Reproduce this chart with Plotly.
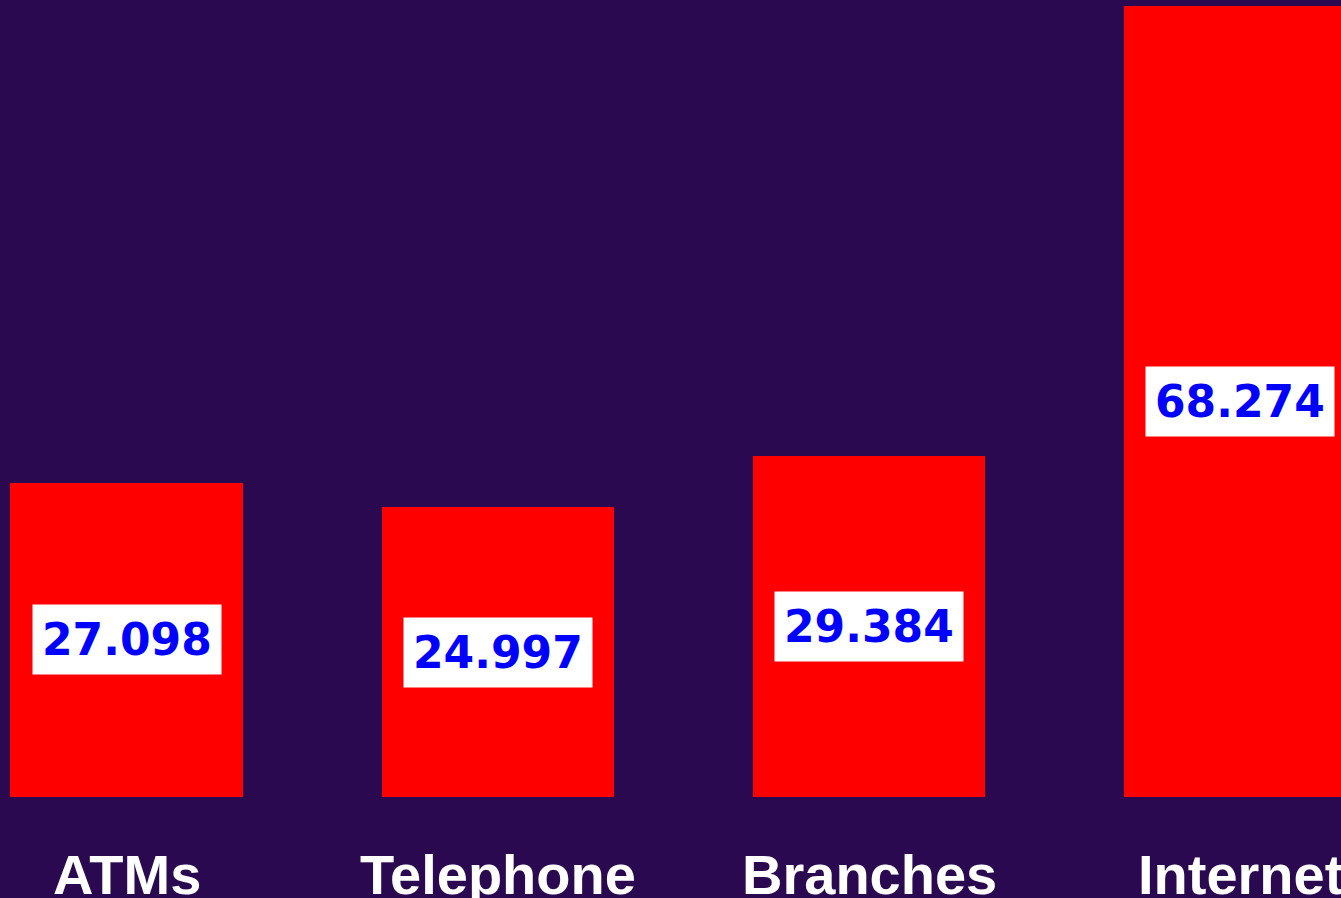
import plotly.graph_objects as go

categories = ["ATMs", "Telephone", "Branches", "Internet"]
values = [27.098, 24.997, 29.384, 68.274]
value_labels = ["27.098", "24.997", "29.384", "68.274"]

BG = "#2A0950"
BAR = "#FF0000"

fig = go.Figure()
fig.add_trace(go.Bar(
    x=list(range(len(categories))),
    y=values,
    width=0.625,
    marker=dict(color=BAR, line=dict(width=0)),
    hoverinfo="skip",
))

annotations = []
for i, (v, lab) in enumerate(zip(values, value_labels)):
    annotations.append(dict(
        x=i, y=v / 2, xref="x", yref="y", text=f"<b>{lab}</b>",
        showarrow=False, bgcolor="white", borderpad=9,
        font=dict(family="DejaVu Sans", size=44, color="#0000FF"),
        xanchor="center", yanchor="middle",
    ))
for i, c in enumerate(categories):
    annotations.append(dict(
        x=i, y=-0.097, xref="x", yref="paper", text=f"<b>{c}</b>",
        showarrow=False,
        font=dict(family="Liberation Sans", size=56, color="white"),
        xanchor="center", yanchor="middle",
    ))

fig.update_layout(
    width=1341, height=898,
    margin=dict(l=0, r=0, t=0, b=101),
    paper_bgcolor=BG, plot_bgcolor=BG,
    showlegend=False,
    bargap=0,
    xaxis=dict(range=[-0.3407, 3.271], showticklabels=False, showgrid=False,
               zeroline=False, showline=False, ticks=""),
    yaxis=dict(range=[0, 68.77], showticklabels=False, showgrid=False,
               zeroline=False, showline=False, ticks=""),
    annotations=annotations,
)

fig.write_html(
    "out.html",
    config={"displayModeBar": False},
    post_script="document.body.style.margin='0';document.body.style.overflow='hidden';document.body.style.background='" + BG + "';",
)
